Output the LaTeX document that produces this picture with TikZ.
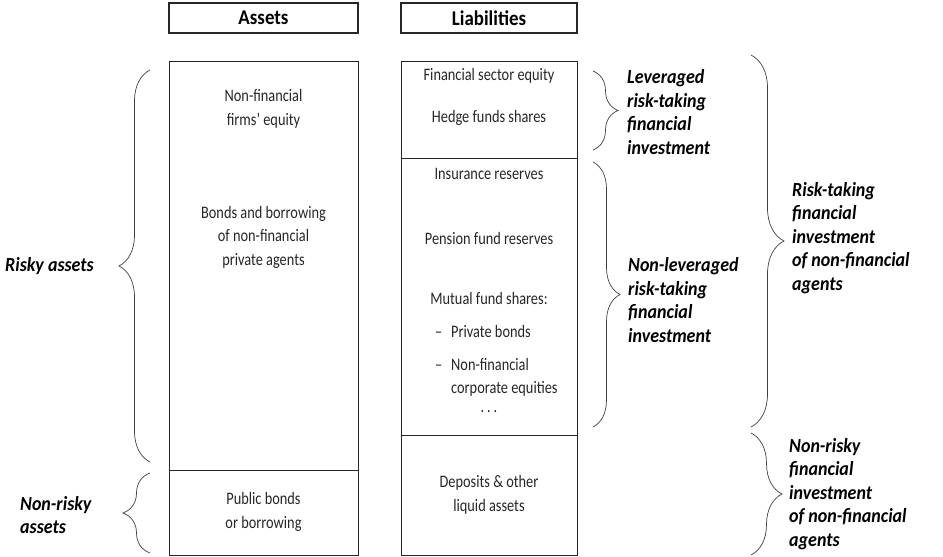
\documentclass[tikz,border=0pt]{standalone}
\usepackage{fontspec}
\setmainfont{Carlito}[FakeStretch=0.82]
\newfontfamily\lblfont{Carlito}[FakeStretch=0.9]
\usetikzlibrary{decorations.pathreplacing,positioning}
\newcommand{\itm}[1]{\makebox[16pt][l]{--}#1}

\begin{document}
\begin{tikzpicture}[
  x=1pt, y=-1pt,
  font=\fontsize{17.5}{23.5}\selectfont,
  box/.style={draw=black!85, line width=1.3pt, inner sep=0pt, anchor=north west},
  head/.style={draw=black!85, line width=1.3pt, inner sep=0pt, minimum height=30pt, font=\lblfont\fontsize{21}{22}\selectfont\bfseries},
  txt/.style={text=black!85, align=center, inner sep=0pt},
  lbl/.style={font=\lblfont\fontsize{20}{23.5}\selectfont\bfseries\itshape, align=left, inner sep=0pt, anchor=west},
  brc/.style={decorate, decoration={brace, amplitude=#1}, line width=0.7pt, draw=black!75},
]
\useasboundingbox (0,0) rectangle (943,557);

% column heads
\node[head, minimum width=189pt] (assetsH) at (263.5,18) {Assets};
\node[head, minimum width=176pt] (liabH) at (489,18) {Liabilities};

% asset side
\node[box, minimum width=189pt, minimum height=409pt] (riskyA) at (169,61) {};
\node[box, minimum width=189pt, minimum height=85pt] (safeA) at (169,470) {};
\node[txt] (nfeq) at (263.5,109) {Non-financial\\firms' equity};
\node[txt] (bonds) at (263.5,237) {Bonds and borrowing\\of non-financial\\private agents};
\node[txt] (pub) at (263.5,512) {Public bonds\\or borrowing};

% liability side
\node[box, minimum width=176pt, minimum height=97pt] (lev) at (401,61) {};
\node[box, minimum width=176pt, minimum height=277pt] (nonlev) at (401,158) {};
\node[box, minimum width=176pt, minimum height=120pt] (dep) at (401,435) {};
\node[txt] (fse) at (489,76) {Financial sector equity};
\node[txt] (hfs) at (489,118) {Hedge funds shares};
\node[txt] (ins) at (489,174) {Insurance reserves};
\node[txt] (pens) at (489,238) {Pension fund reserves};
\node[txt] (mut) at (489,298) {Mutual fund shares:};
\node[txt, anchor=west, align=left] (pbond) at (435,331) {\itm{Private bonds}};
\node[txt, anchor=west, align=left] (corp) at (435,377.5) {\itm{Non-financial}\\\hspace*{16pt}corporate equities};
\node[txt] (dots) at (489,412) {.\,.\,.};
\node[txt] (liq) at (489,495) {Deposits \& other\\liquid assets};

% braces
\coordinate (rT) at (150,70);
\coordinate (rB) at (150,462);
\coordinate (sT) at (150,473);
\coordinate (sB) at (150,553);
\coordinate (lT) at (593,71);
\coordinate (lB) at (593,150);
\coordinate (nT) at (593,162);
\coordinate (nB) at (593,427);
\coordinate (kT) at (751,55);
\coordinate (kB) at (751,427);
\coordinate (fT) at (751,433);
\coordinate (fB) at (751,555);
\draw[brc=31] (rB) -- (rT);
\draw[brc=27] (sB) -- (sT);
\draw[brc=25] (lT) -- (lB);
\draw[brc=27] (nT) -- (nB);
\draw[brc=33] (kT) -- (kB);
\draw[brc=31] (fT) -- (fB);

% brace labels
\node[lbl] (risky) at (5,266) {Risky assets};
\node[lbl] (nonrisky) at (20,515) {Non-risky\\assets};
\node[lbl] (levL) at (627,112) {Leveraged\\risk-taking\\financial\\investment};
\node[lbl] (nonlevL) at (628,300) {Non-leveraged\\risk-taking\\financial\\investment};
\node[lbl] (riskL) at (792,238) {Risk-taking\\financial\\investment\\of non-financial\\agents};
\node[lbl] (safeL) at (789,494) {Non-risky\\financial\\investment\\of non-financial\\agents};
\end{tikzpicture}
\end{document}
